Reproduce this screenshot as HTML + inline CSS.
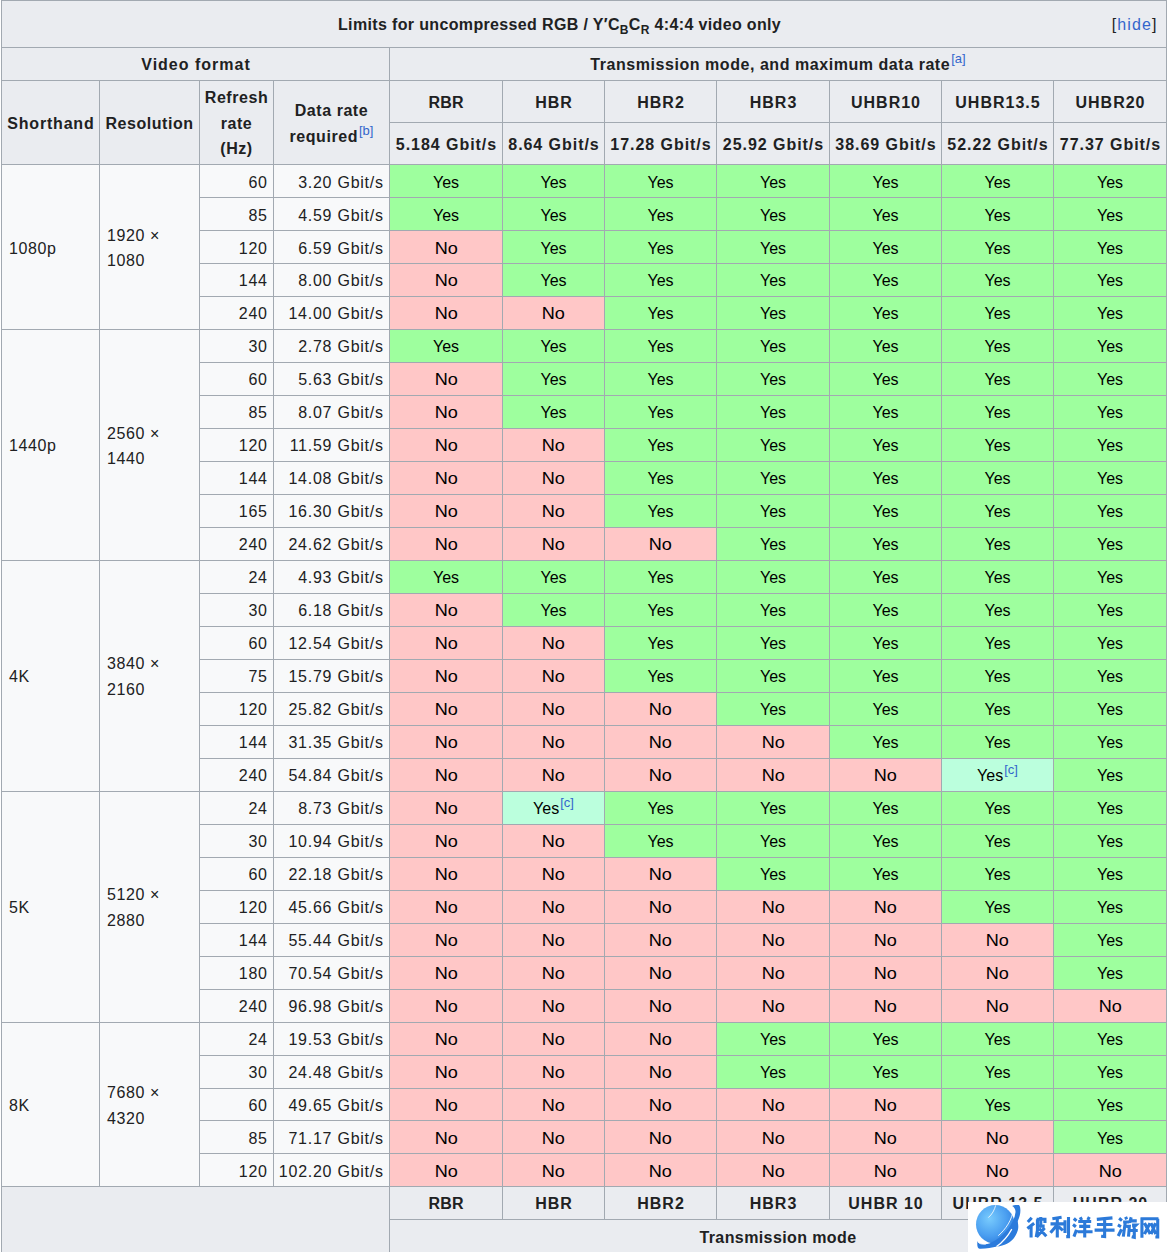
<!DOCTYPE html>
<html><head><meta charset="utf-8"><style>
html,body{margin:0;padding:0;background:#fff;}
#w{position:relative;width:1168px;height:1252px;overflow:hidden;background:#fff;font-family:"Liberation Sans",sans-serif;font-size:16px;color:#202122;}
.c{position:absolute;box-sizing:border-box;border:1px solid #a2a9b1;display:flex;align-items:center;line-height:25.6px;}
.c>span{position:relative;top:2px;letter-spacing:0.6px;}
.th{font-weight:bold;justify-content:center;text-align:center;}
.th>span{top:1px;letter-spacing:0.55px;}
.th.md>span{letter-spacing:1px;margin-right:-1px;}
.th.md.rbr>span{letter-spacing:0.2px;margin-right:-0.2px;}
.tl{justify-content:flex-start;padding-left:7px;}
.tr{justify-content:flex-end;padding-right:6px;}
.tr>span{letter-spacing:0.75px;margin-right:-0.75px;}
.tc{justify-content:center;color:#000;}
.tc.ys>span{letter-spacing:0;}
.tc.no>span{letter-spacing:0;display:inline-block;transform:scaleX(1.13);}
sup{font-size:13px;line-height:1;vertical-align:baseline;position:relative;top:-7px;color:#3366cc;font-weight:normal;letter-spacing:0;margin-left:1px;}
sub{font-size:12px;line-height:1;vertical-align:baseline;position:relative;top:4px;}
.capc{justify-content:flex-start;}
.capc>span{position:static;}
.cap{position:absolute;left:336px;top:11px;letter-spacing:0.35px;}
.hide{position:absolute;right:8.5px;top:11px;font-weight:normal;letter-spacing:1.1px;}
.hide a{color:#3366cc;}
.ab{position:absolute;line-height:20px;letter-spacing:0.6px;white-space:nowrap;}
.tm>span{top:-17px;letter-spacing:0.4px;}
.rt>span{letter-spacing:0.95px;margin-right:-0.95px;}
.vf>span{letter-spacing:1px;margin-right:-1px;}
.sh>span{letter-spacing:0.8px;margin-right:-0.8px;}
</style></head>
<body><div id="w">
<div class="c th capc" style="left:1px;top:0px;width:1166px;height:48px;background:#eaecf0;"><span><span class="cap">Limits for uncompressed RGB / Y′C<sub>B</sub>C<sub>R</sub> 4:4:4 video only</span><span class="hide">[<a>hide</a>]</span></span></div>
<div class="c th vf" style="left:1px;top:47px;width:389px;height:34px;background:#eaecf0;"><span>Video format</span></div>
<div class="c th" style="left:389px;top:47px;width:778px;height:34px;background:#eaecf0;"><span>Transmission mode, and maximum data rate<sup>[a]</sup></span></div>
<div class="c th sh" style="left:1px;top:80px;width:99px;height:85px;background:#eaecf0;"><span>Shorthand</span></div>
<div class="c th" style="left:99px;top:80px;width:101px;height:85px;background:#eaecf0;"><span>Resolution</span></div>
<div class="c th" style="left:199px;top:80px;width:75px;height:85px;background:#eaecf0;"><span>Refresh<br>rate<br>(Hz)</span></div>
<div class="c th" style="left:273px;top:80px;width:117px;height:85px;background:#eaecf0;"><span>Data rate<br>required<sup>[b]</sup></span></div>
<div class="c th md rbr" style="left:389px;top:80px;width:114px;height:43px;background:#eaecf0;"><span>RBR</span></div>
<div class="c th rt" style="left:389px;top:122px;width:114px;height:43px;background:#eaecf0;"><span>5.184 Gbit/s</span></div>
<div class="c th md" style="left:502px;top:80px;width:103px;height:43px;background:#eaecf0;"><span>HBR</span></div>
<div class="c th rt" style="left:502px;top:122px;width:103px;height:43px;background:#eaecf0;"><span>8.64 Gbit/s</span></div>
<div class="c th md" style="left:604px;top:80px;width:113px;height:43px;background:#eaecf0;"><span>HBR2</span></div>
<div class="c th rt" style="left:604px;top:122px;width:113px;height:43px;background:#eaecf0;"><span>17.28 Gbit/s</span></div>
<div class="c th md" style="left:716px;top:80px;width:114px;height:43px;background:#eaecf0;"><span>HBR3</span></div>
<div class="c th rt" style="left:716px;top:122px;width:114px;height:43px;background:#eaecf0;"><span>25.92 Gbit/s</span></div>
<div class="c th md" style="left:829px;top:80px;width:113px;height:43px;background:#eaecf0;"><span>UHBR10</span></div>
<div class="c th rt" style="left:829px;top:122px;width:113px;height:43px;background:#eaecf0;"><span>38.69 Gbit/s</span></div>
<div class="c th md" style="left:941px;top:80px;width:113px;height:43px;background:#eaecf0;"><span>UHBR13.5</span></div>
<div class="c th rt" style="left:941px;top:122px;width:113px;height:43px;background:#eaecf0;"><span>52.22 Gbit/s</span></div>
<div class="c th md" style="left:1053px;top:80px;width:114px;height:43px;background:#eaecf0;"><span>UHBR20</span></div>
<div class="c th rt" style="left:1053px;top:122px;width:114px;height:43px;background:#eaecf0;"><span>77.37 Gbit/s</span></div>
<div class="c" style="left:1px;top:164px;width:99px;height:166px;background:#f8f9fa;"></div>
<div class="ab" style="left:9px;top:239px">1080p</div>
<div class="c" style="left:99px;top:164px;width:101px;height:166px;background:#f8f9fa;"></div>
<div class="ab" style="left:107px;top:226px">1920 ×</div>
<div class="ab" style="left:107px;top:251px">1080</div>
<div class="c tr" style="left:199px;top:164px;width:75px;height:34px;background:#f8f9fa;"><span style="top:2px">60</span></div>
<div class="c tr" style="left:273px;top:164px;width:117px;height:34px;background:#f8f9fa;"><span style="top:2px">3.20 Gbit/s</span></div>
<div class="c tc ys" style="left:389px;top:164px;width:114px;height:34px;background:#9eff9e;"><span style="top:2px">Yes</span></div>
<div class="c tc ys" style="left:502px;top:164px;width:103px;height:34px;background:#9eff9e;"><span style="top:2px">Yes</span></div>
<div class="c tc ys" style="left:604px;top:164px;width:113px;height:34px;background:#9eff9e;"><span style="top:2px">Yes</span></div>
<div class="c tc ys" style="left:716px;top:164px;width:114px;height:34px;background:#9eff9e;"><span style="top:2px">Yes</span></div>
<div class="c tc ys" style="left:829px;top:164px;width:113px;height:34px;background:#9eff9e;"><span style="top:2px">Yes</span></div>
<div class="c tc ys" style="left:941px;top:164px;width:113px;height:34px;background:#9eff9e;"><span style="top:2px">Yes</span></div>
<div class="c tc ys" style="left:1053px;top:164px;width:114px;height:34px;background:#9eff9e;"><span style="top:2px">Yes</span></div>
<div class="c tr" style="left:199px;top:197px;width:75px;height:34px;background:#f8f9fa;"><span style="top:2px">85</span></div>
<div class="c tr" style="left:273px;top:197px;width:117px;height:34px;background:#f8f9fa;"><span style="top:2px">4.59 Gbit/s</span></div>
<div class="c tc ys" style="left:389px;top:197px;width:114px;height:34px;background:#9eff9e;"><span style="top:2px">Yes</span></div>
<div class="c tc ys" style="left:502px;top:197px;width:103px;height:34px;background:#9eff9e;"><span style="top:2px">Yes</span></div>
<div class="c tc ys" style="left:604px;top:197px;width:113px;height:34px;background:#9eff9e;"><span style="top:2px">Yes</span></div>
<div class="c tc ys" style="left:716px;top:197px;width:114px;height:34px;background:#9eff9e;"><span style="top:2px">Yes</span></div>
<div class="c tc ys" style="left:829px;top:197px;width:113px;height:34px;background:#9eff9e;"><span style="top:2px">Yes</span></div>
<div class="c tc ys" style="left:941px;top:197px;width:113px;height:34px;background:#9eff9e;"><span style="top:2px">Yes</span></div>
<div class="c tc ys" style="left:1053px;top:197px;width:114px;height:34px;background:#9eff9e;"><span style="top:2px">Yes</span></div>
<div class="c tr" style="left:199px;top:230px;width:75px;height:34px;background:#f8f9fa;"><span style="top:2px">120</span></div>
<div class="c tr" style="left:273px;top:230px;width:117px;height:34px;background:#f8f9fa;"><span style="top:2px">6.59 Gbit/s</span></div>
<div class="c tc no" style="left:389px;top:230px;width:114px;height:34px;background:#ffc7c7;"><span style="top:2px">No</span></div>
<div class="c tc ys" style="left:502px;top:230px;width:103px;height:34px;background:#9eff9e;"><span style="top:2px">Yes</span></div>
<div class="c tc ys" style="left:604px;top:230px;width:113px;height:34px;background:#9eff9e;"><span style="top:2px">Yes</span></div>
<div class="c tc ys" style="left:716px;top:230px;width:114px;height:34px;background:#9eff9e;"><span style="top:2px">Yes</span></div>
<div class="c tc ys" style="left:829px;top:230px;width:113px;height:34px;background:#9eff9e;"><span style="top:2px">Yes</span></div>
<div class="c tc ys" style="left:941px;top:230px;width:113px;height:34px;background:#9eff9e;"><span style="top:2px">Yes</span></div>
<div class="c tc ys" style="left:1053px;top:230px;width:114px;height:34px;background:#9eff9e;"><span style="top:2px">Yes</span></div>
<div class="c tr" style="left:199px;top:263px;width:75px;height:34px;background:#f8f9fa;"><span style="top:1px">144</span></div>
<div class="c tr" style="left:273px;top:263px;width:117px;height:34px;background:#f8f9fa;"><span style="top:1px">8.00 Gbit/s</span></div>
<div class="c tc no" style="left:389px;top:263px;width:114px;height:34px;background:#ffc7c7;"><span style="top:1px">No</span></div>
<div class="c tc ys" style="left:502px;top:263px;width:103px;height:34px;background:#9eff9e;"><span style="top:1px">Yes</span></div>
<div class="c tc ys" style="left:604px;top:263px;width:113px;height:34px;background:#9eff9e;"><span style="top:1px">Yes</span></div>
<div class="c tc ys" style="left:716px;top:263px;width:114px;height:34px;background:#9eff9e;"><span style="top:1px">Yes</span></div>
<div class="c tc ys" style="left:829px;top:263px;width:113px;height:34px;background:#9eff9e;"><span style="top:1px">Yes</span></div>
<div class="c tc ys" style="left:941px;top:263px;width:113px;height:34px;background:#9eff9e;"><span style="top:1px">Yes</span></div>
<div class="c tc ys" style="left:1053px;top:263px;width:114px;height:34px;background:#9eff9e;"><span style="top:1px">Yes</span></div>
<div class="c tr" style="left:199px;top:296px;width:75px;height:34px;background:#f8f9fa;"><span style="top:1px">240</span></div>
<div class="c tr" style="left:273px;top:296px;width:117px;height:34px;background:#f8f9fa;"><span style="top:1px">14.00 Gbit/s</span></div>
<div class="c tc no" style="left:389px;top:296px;width:114px;height:34px;background:#ffc7c7;"><span style="top:1px">No</span></div>
<div class="c tc no" style="left:502px;top:296px;width:103px;height:34px;background:#ffc7c7;"><span style="top:1px">No</span></div>
<div class="c tc ys" style="left:604px;top:296px;width:113px;height:34px;background:#9eff9e;"><span style="top:1px">Yes</span></div>
<div class="c tc ys" style="left:716px;top:296px;width:114px;height:34px;background:#9eff9e;"><span style="top:1px">Yes</span></div>
<div class="c tc ys" style="left:829px;top:296px;width:113px;height:34px;background:#9eff9e;"><span style="top:1px">Yes</span></div>
<div class="c tc ys" style="left:941px;top:296px;width:113px;height:34px;background:#9eff9e;"><span style="top:1px">Yes</span></div>
<div class="c tc ys" style="left:1053px;top:296px;width:114px;height:34px;background:#9eff9e;"><span style="top:1px">Yes</span></div>
<div class="c" style="left:1px;top:329px;width:99px;height:232px;background:#f8f9fa;"></div>
<div class="ab" style="left:9px;top:436px">1440p</div>
<div class="c" style="left:99px;top:329px;width:101px;height:232px;background:#f8f9fa;"></div>
<div class="ab" style="left:107px;top:424px">2560 ×</div>
<div class="ab" style="left:107px;top:449px">1440</div>
<div class="c tr" style="left:199px;top:329px;width:75px;height:34px;background:#f8f9fa;"><span style="top:1px">30</span></div>
<div class="c tr" style="left:273px;top:329px;width:117px;height:34px;background:#f8f9fa;"><span style="top:1px">2.78 Gbit/s</span></div>
<div class="c tc ys" style="left:389px;top:329px;width:114px;height:34px;background:#9eff9e;"><span style="top:1px">Yes</span></div>
<div class="c tc ys" style="left:502px;top:329px;width:103px;height:34px;background:#9eff9e;"><span style="top:1px">Yes</span></div>
<div class="c tc ys" style="left:604px;top:329px;width:113px;height:34px;background:#9eff9e;"><span style="top:1px">Yes</span></div>
<div class="c tc ys" style="left:716px;top:329px;width:114px;height:34px;background:#9eff9e;"><span style="top:1px">Yes</span></div>
<div class="c tc ys" style="left:829px;top:329px;width:113px;height:34px;background:#9eff9e;"><span style="top:1px">Yes</span></div>
<div class="c tc ys" style="left:941px;top:329px;width:113px;height:34px;background:#9eff9e;"><span style="top:1px">Yes</span></div>
<div class="c tc ys" style="left:1053px;top:329px;width:114px;height:34px;background:#9eff9e;"><span style="top:1px">Yes</span></div>
<div class="c tr" style="left:199px;top:362px;width:75px;height:34px;background:#f8f9fa;"><span style="top:1px">60</span></div>
<div class="c tr" style="left:273px;top:362px;width:117px;height:34px;background:#f8f9fa;"><span style="top:1px">5.63 Gbit/s</span></div>
<div class="c tc no" style="left:389px;top:362px;width:114px;height:34px;background:#ffc7c7;"><span style="top:1px">No</span></div>
<div class="c tc ys" style="left:502px;top:362px;width:103px;height:34px;background:#9eff9e;"><span style="top:1px">Yes</span></div>
<div class="c tc ys" style="left:604px;top:362px;width:113px;height:34px;background:#9eff9e;"><span style="top:1px">Yes</span></div>
<div class="c tc ys" style="left:716px;top:362px;width:114px;height:34px;background:#9eff9e;"><span style="top:1px">Yes</span></div>
<div class="c tc ys" style="left:829px;top:362px;width:113px;height:34px;background:#9eff9e;"><span style="top:1px">Yes</span></div>
<div class="c tc ys" style="left:941px;top:362px;width:113px;height:34px;background:#9eff9e;"><span style="top:1px">Yes</span></div>
<div class="c tc ys" style="left:1053px;top:362px;width:114px;height:34px;background:#9eff9e;"><span style="top:1px">Yes</span></div>
<div class="c tr" style="left:199px;top:395px;width:75px;height:34px;background:#f8f9fa;"><span style="top:1px">85</span></div>
<div class="c tr" style="left:273px;top:395px;width:117px;height:34px;background:#f8f9fa;"><span style="top:1px">8.07 Gbit/s</span></div>
<div class="c tc no" style="left:389px;top:395px;width:114px;height:34px;background:#ffc7c7;"><span style="top:1px">No</span></div>
<div class="c tc ys" style="left:502px;top:395px;width:103px;height:34px;background:#9eff9e;"><span style="top:1px">Yes</span></div>
<div class="c tc ys" style="left:604px;top:395px;width:113px;height:34px;background:#9eff9e;"><span style="top:1px">Yes</span></div>
<div class="c tc ys" style="left:716px;top:395px;width:114px;height:34px;background:#9eff9e;"><span style="top:1px">Yes</span></div>
<div class="c tc ys" style="left:829px;top:395px;width:113px;height:34px;background:#9eff9e;"><span style="top:1px">Yes</span></div>
<div class="c tc ys" style="left:941px;top:395px;width:113px;height:34px;background:#9eff9e;"><span style="top:1px">Yes</span></div>
<div class="c tc ys" style="left:1053px;top:395px;width:114px;height:34px;background:#9eff9e;"><span style="top:1px">Yes</span></div>
<div class="c tr" style="left:199px;top:428px;width:75px;height:34px;background:#f8f9fa;"><span style="top:1px">120</span></div>
<div class="c tr" style="left:273px;top:428px;width:117px;height:34px;background:#f8f9fa;"><span style="top:1px">11.59 Gbit/s</span></div>
<div class="c tc no" style="left:389px;top:428px;width:114px;height:34px;background:#ffc7c7;"><span style="top:1px">No</span></div>
<div class="c tc no" style="left:502px;top:428px;width:103px;height:34px;background:#ffc7c7;"><span style="top:1px">No</span></div>
<div class="c tc ys" style="left:604px;top:428px;width:113px;height:34px;background:#9eff9e;"><span style="top:1px">Yes</span></div>
<div class="c tc ys" style="left:716px;top:428px;width:114px;height:34px;background:#9eff9e;"><span style="top:1px">Yes</span></div>
<div class="c tc ys" style="left:829px;top:428px;width:113px;height:34px;background:#9eff9e;"><span style="top:1px">Yes</span></div>
<div class="c tc ys" style="left:941px;top:428px;width:113px;height:34px;background:#9eff9e;"><span style="top:1px">Yes</span></div>
<div class="c tc ys" style="left:1053px;top:428px;width:114px;height:34px;background:#9eff9e;"><span style="top:1px">Yes</span></div>
<div class="c tr" style="left:199px;top:461px;width:75px;height:34px;background:#f8f9fa;"><span style="top:1px">144</span></div>
<div class="c tr" style="left:273px;top:461px;width:117px;height:34px;background:#f8f9fa;"><span style="top:1px">14.08 Gbit/s</span></div>
<div class="c tc no" style="left:389px;top:461px;width:114px;height:34px;background:#ffc7c7;"><span style="top:1px">No</span></div>
<div class="c tc no" style="left:502px;top:461px;width:103px;height:34px;background:#ffc7c7;"><span style="top:1px">No</span></div>
<div class="c tc ys" style="left:604px;top:461px;width:113px;height:34px;background:#9eff9e;"><span style="top:1px">Yes</span></div>
<div class="c tc ys" style="left:716px;top:461px;width:114px;height:34px;background:#9eff9e;"><span style="top:1px">Yes</span></div>
<div class="c tc ys" style="left:829px;top:461px;width:113px;height:34px;background:#9eff9e;"><span style="top:1px">Yes</span></div>
<div class="c tc ys" style="left:941px;top:461px;width:113px;height:34px;background:#9eff9e;"><span style="top:1px">Yes</span></div>
<div class="c tc ys" style="left:1053px;top:461px;width:114px;height:34px;background:#9eff9e;"><span style="top:1px">Yes</span></div>
<div class="c tr" style="left:199px;top:494px;width:75px;height:34px;background:#f8f9fa;"><span style="top:1px">165</span></div>
<div class="c tr" style="left:273px;top:494px;width:117px;height:34px;background:#f8f9fa;"><span style="top:1px">16.30 Gbit/s</span></div>
<div class="c tc no" style="left:389px;top:494px;width:114px;height:34px;background:#ffc7c7;"><span style="top:1px">No</span></div>
<div class="c tc no" style="left:502px;top:494px;width:103px;height:34px;background:#ffc7c7;"><span style="top:1px">No</span></div>
<div class="c tc ys" style="left:604px;top:494px;width:113px;height:34px;background:#9eff9e;"><span style="top:1px">Yes</span></div>
<div class="c tc ys" style="left:716px;top:494px;width:114px;height:34px;background:#9eff9e;"><span style="top:1px">Yes</span></div>
<div class="c tc ys" style="left:829px;top:494px;width:113px;height:34px;background:#9eff9e;"><span style="top:1px">Yes</span></div>
<div class="c tc ys" style="left:941px;top:494px;width:113px;height:34px;background:#9eff9e;"><span style="top:1px">Yes</span></div>
<div class="c tc ys" style="left:1053px;top:494px;width:114px;height:34px;background:#9eff9e;"><span style="top:1px">Yes</span></div>
<div class="c tr" style="left:199px;top:527px;width:75px;height:34px;background:#f8f9fa;"><span style="top:1px">240</span></div>
<div class="c tr" style="left:273px;top:527px;width:117px;height:34px;background:#f8f9fa;"><span style="top:1px">24.62 Gbit/s</span></div>
<div class="c tc no" style="left:389px;top:527px;width:114px;height:34px;background:#ffc7c7;"><span style="top:1px">No</span></div>
<div class="c tc no" style="left:502px;top:527px;width:103px;height:34px;background:#ffc7c7;"><span style="top:1px">No</span></div>
<div class="c tc no" style="left:604px;top:527px;width:113px;height:34px;background:#ffc7c7;"><span style="top:1px">No</span></div>
<div class="c tc ys" style="left:716px;top:527px;width:114px;height:34px;background:#9eff9e;"><span style="top:1px">Yes</span></div>
<div class="c tc ys" style="left:829px;top:527px;width:113px;height:34px;background:#9eff9e;"><span style="top:1px">Yes</span></div>
<div class="c tc ys" style="left:941px;top:527px;width:113px;height:34px;background:#9eff9e;"><span style="top:1px">Yes</span></div>
<div class="c tc ys" style="left:1053px;top:527px;width:114px;height:34px;background:#9eff9e;"><span style="top:1px">Yes</span></div>
<div class="c" style="left:1px;top:560px;width:99px;height:232px;background:#f8f9fa;"></div>
<div class="ab" style="left:9px;top:667px">4K</div>
<div class="c" style="left:99px;top:560px;width:101px;height:232px;background:#f8f9fa;"></div>
<div class="ab" style="left:107px;top:654px">3840 ×</div>
<div class="ab" style="left:107px;top:680px">2160</div>
<div class="c tr" style="left:199px;top:560px;width:75px;height:34px;background:#f8f9fa;"><span style="top:1px">24</span></div>
<div class="c tr" style="left:273px;top:560px;width:117px;height:34px;background:#f8f9fa;"><span style="top:1px">4.93 Gbit/s</span></div>
<div class="c tc ys" style="left:389px;top:560px;width:114px;height:34px;background:#9eff9e;"><span style="top:1px">Yes</span></div>
<div class="c tc ys" style="left:502px;top:560px;width:103px;height:34px;background:#9eff9e;"><span style="top:1px">Yes</span></div>
<div class="c tc ys" style="left:604px;top:560px;width:113px;height:34px;background:#9eff9e;"><span style="top:1px">Yes</span></div>
<div class="c tc ys" style="left:716px;top:560px;width:114px;height:34px;background:#9eff9e;"><span style="top:1px">Yes</span></div>
<div class="c tc ys" style="left:829px;top:560px;width:113px;height:34px;background:#9eff9e;"><span style="top:1px">Yes</span></div>
<div class="c tc ys" style="left:941px;top:560px;width:113px;height:34px;background:#9eff9e;"><span style="top:1px">Yes</span></div>
<div class="c tc ys" style="left:1053px;top:560px;width:114px;height:34px;background:#9eff9e;"><span style="top:1px">Yes</span></div>
<div class="c tr" style="left:199px;top:593px;width:75px;height:34px;background:#f8f9fa;"><span style="top:1px">30</span></div>
<div class="c tr" style="left:273px;top:593px;width:117px;height:34px;background:#f8f9fa;"><span style="top:1px">6.18 Gbit/s</span></div>
<div class="c tc no" style="left:389px;top:593px;width:114px;height:34px;background:#ffc7c7;"><span style="top:1px">No</span></div>
<div class="c tc ys" style="left:502px;top:593px;width:103px;height:34px;background:#9eff9e;"><span style="top:1px">Yes</span></div>
<div class="c tc ys" style="left:604px;top:593px;width:113px;height:34px;background:#9eff9e;"><span style="top:1px">Yes</span></div>
<div class="c tc ys" style="left:716px;top:593px;width:114px;height:34px;background:#9eff9e;"><span style="top:1px">Yes</span></div>
<div class="c tc ys" style="left:829px;top:593px;width:113px;height:34px;background:#9eff9e;"><span style="top:1px">Yes</span></div>
<div class="c tc ys" style="left:941px;top:593px;width:113px;height:34px;background:#9eff9e;"><span style="top:1px">Yes</span></div>
<div class="c tc ys" style="left:1053px;top:593px;width:114px;height:34px;background:#9eff9e;"><span style="top:1px">Yes</span></div>
<div class="c tr" style="left:199px;top:626px;width:75px;height:34px;background:#f8f9fa;"><span style="top:1px">60</span></div>
<div class="c tr" style="left:273px;top:626px;width:117px;height:34px;background:#f8f9fa;"><span style="top:1px">12.54 Gbit/s</span></div>
<div class="c tc no" style="left:389px;top:626px;width:114px;height:34px;background:#ffc7c7;"><span style="top:1px">No</span></div>
<div class="c tc no" style="left:502px;top:626px;width:103px;height:34px;background:#ffc7c7;"><span style="top:1px">No</span></div>
<div class="c tc ys" style="left:604px;top:626px;width:113px;height:34px;background:#9eff9e;"><span style="top:1px">Yes</span></div>
<div class="c tc ys" style="left:716px;top:626px;width:114px;height:34px;background:#9eff9e;"><span style="top:1px">Yes</span></div>
<div class="c tc ys" style="left:829px;top:626px;width:113px;height:34px;background:#9eff9e;"><span style="top:1px">Yes</span></div>
<div class="c tc ys" style="left:941px;top:626px;width:113px;height:34px;background:#9eff9e;"><span style="top:1px">Yes</span></div>
<div class="c tc ys" style="left:1053px;top:626px;width:114px;height:34px;background:#9eff9e;"><span style="top:1px">Yes</span></div>
<div class="c tr" style="left:199px;top:659px;width:75px;height:34px;background:#f8f9fa;"><span style="top:1px">75</span></div>
<div class="c tr" style="left:273px;top:659px;width:117px;height:34px;background:#f8f9fa;"><span style="top:1px">15.79 Gbit/s</span></div>
<div class="c tc no" style="left:389px;top:659px;width:114px;height:34px;background:#ffc7c7;"><span style="top:1px">No</span></div>
<div class="c tc no" style="left:502px;top:659px;width:103px;height:34px;background:#ffc7c7;"><span style="top:1px">No</span></div>
<div class="c tc ys" style="left:604px;top:659px;width:113px;height:34px;background:#9eff9e;"><span style="top:1px">Yes</span></div>
<div class="c tc ys" style="left:716px;top:659px;width:114px;height:34px;background:#9eff9e;"><span style="top:1px">Yes</span></div>
<div class="c tc ys" style="left:829px;top:659px;width:113px;height:34px;background:#9eff9e;"><span style="top:1px">Yes</span></div>
<div class="c tc ys" style="left:941px;top:659px;width:113px;height:34px;background:#9eff9e;"><span style="top:1px">Yes</span></div>
<div class="c tc ys" style="left:1053px;top:659px;width:114px;height:34px;background:#9eff9e;"><span style="top:1px">Yes</span></div>
<div class="c tr" style="left:199px;top:692px;width:75px;height:34px;background:#f8f9fa;"><span style="top:1px">120</span></div>
<div class="c tr" style="left:273px;top:692px;width:117px;height:34px;background:#f8f9fa;"><span style="top:1px">25.82 Gbit/s</span></div>
<div class="c tc no" style="left:389px;top:692px;width:114px;height:34px;background:#ffc7c7;"><span style="top:1px">No</span></div>
<div class="c tc no" style="left:502px;top:692px;width:103px;height:34px;background:#ffc7c7;"><span style="top:1px">No</span></div>
<div class="c tc no" style="left:604px;top:692px;width:113px;height:34px;background:#ffc7c7;"><span style="top:1px">No</span></div>
<div class="c tc ys" style="left:716px;top:692px;width:114px;height:34px;background:#9eff9e;"><span style="top:1px">Yes</span></div>
<div class="c tc ys" style="left:829px;top:692px;width:113px;height:34px;background:#9eff9e;"><span style="top:1px">Yes</span></div>
<div class="c tc ys" style="left:941px;top:692px;width:113px;height:34px;background:#9eff9e;"><span style="top:1px">Yes</span></div>
<div class="c tc ys" style="left:1053px;top:692px;width:114px;height:34px;background:#9eff9e;"><span style="top:1px">Yes</span></div>
<div class="c tr" style="left:199px;top:725px;width:75px;height:34px;background:#f8f9fa;"><span style="top:1px">144</span></div>
<div class="c tr" style="left:273px;top:725px;width:117px;height:34px;background:#f8f9fa;"><span style="top:1px">31.35 Gbit/s</span></div>
<div class="c tc no" style="left:389px;top:725px;width:114px;height:34px;background:#ffc7c7;"><span style="top:1px">No</span></div>
<div class="c tc no" style="left:502px;top:725px;width:103px;height:34px;background:#ffc7c7;"><span style="top:1px">No</span></div>
<div class="c tc no" style="left:604px;top:725px;width:113px;height:34px;background:#ffc7c7;"><span style="top:1px">No</span></div>
<div class="c tc no" style="left:716px;top:725px;width:114px;height:34px;background:#ffc7c7;"><span style="top:1px">No</span></div>
<div class="c tc ys" style="left:829px;top:725px;width:113px;height:34px;background:#9eff9e;"><span style="top:1px">Yes</span></div>
<div class="c tc ys" style="left:941px;top:725px;width:113px;height:34px;background:#9eff9e;"><span style="top:1px">Yes</span></div>
<div class="c tc ys" style="left:1053px;top:725px;width:114px;height:34px;background:#9eff9e;"><span style="top:1px">Yes</span></div>
<div class="c tr" style="left:199px;top:758px;width:75px;height:34px;background:#f8f9fa;"><span style="top:1px">240</span></div>
<div class="c tr" style="left:273px;top:758px;width:117px;height:34px;background:#f8f9fa;"><span style="top:1px">54.84 Gbit/s</span></div>
<div class="c tc no" style="left:389px;top:758px;width:114px;height:34px;background:#ffc7c7;"><span style="top:1px">No</span></div>
<div class="c tc no" style="left:502px;top:758px;width:103px;height:34px;background:#ffc7c7;"><span style="top:1px">No</span></div>
<div class="c tc no" style="left:604px;top:758px;width:113px;height:34px;background:#ffc7c7;"><span style="top:1px">No</span></div>
<div class="c tc no" style="left:716px;top:758px;width:114px;height:34px;background:#ffc7c7;"><span style="top:1px">No</span></div>
<div class="c tc no" style="left:829px;top:758px;width:113px;height:34px;background:#ffc7c7;"><span style="top:1px">No</span></div>
<div class="c tc ys" style="left:941px;top:758px;width:113px;height:34px;background:#bbffdd;"><span style="top:1px">Yes<sup>[c]</sup></span></div>
<div class="c tc ys" style="left:1053px;top:758px;width:114px;height:34px;background:#9eff9e;"><span style="top:1px">Yes</span></div>
<div class="c" style="left:1px;top:791px;width:99px;height:232px;background:#f8f9fa;"></div>
<div class="ab" style="left:9px;top:898px">5K</div>
<div class="c" style="left:99px;top:791px;width:101px;height:232px;background:#f8f9fa;"></div>
<div class="ab" style="left:107px;top:885px">5120 ×</div>
<div class="ab" style="left:107px;top:911px">2880</div>
<div class="c tr" style="left:199px;top:791px;width:75px;height:34px;background:#f8f9fa;"><span style="top:1px">24</span></div>
<div class="c tr" style="left:273px;top:791px;width:117px;height:34px;background:#f8f9fa;"><span style="top:1px">8.73 Gbit/s</span></div>
<div class="c tc no" style="left:389px;top:791px;width:114px;height:34px;background:#ffc7c7;"><span style="top:1px">No</span></div>
<div class="c tc ys" style="left:502px;top:791px;width:103px;height:34px;background:#bbffdd;"><span style="top:1px">Yes<sup>[c]</sup></span></div>
<div class="c tc ys" style="left:604px;top:791px;width:113px;height:34px;background:#9eff9e;"><span style="top:1px">Yes</span></div>
<div class="c tc ys" style="left:716px;top:791px;width:114px;height:34px;background:#9eff9e;"><span style="top:1px">Yes</span></div>
<div class="c tc ys" style="left:829px;top:791px;width:113px;height:34px;background:#9eff9e;"><span style="top:1px">Yes</span></div>
<div class="c tc ys" style="left:941px;top:791px;width:113px;height:34px;background:#9eff9e;"><span style="top:1px">Yes</span></div>
<div class="c tc ys" style="left:1053px;top:791px;width:114px;height:34px;background:#9eff9e;"><span style="top:1px">Yes</span></div>
<div class="c tr" style="left:199px;top:824px;width:75px;height:34px;background:#f8f9fa;"><span style="top:1px">30</span></div>
<div class="c tr" style="left:273px;top:824px;width:117px;height:34px;background:#f8f9fa;"><span style="top:1px">10.94 Gbit/s</span></div>
<div class="c tc no" style="left:389px;top:824px;width:114px;height:34px;background:#ffc7c7;"><span style="top:1px">No</span></div>
<div class="c tc no" style="left:502px;top:824px;width:103px;height:34px;background:#ffc7c7;"><span style="top:1px">No</span></div>
<div class="c tc ys" style="left:604px;top:824px;width:113px;height:34px;background:#9eff9e;"><span style="top:1px">Yes</span></div>
<div class="c tc ys" style="left:716px;top:824px;width:114px;height:34px;background:#9eff9e;"><span style="top:1px">Yes</span></div>
<div class="c tc ys" style="left:829px;top:824px;width:113px;height:34px;background:#9eff9e;"><span style="top:1px">Yes</span></div>
<div class="c tc ys" style="left:941px;top:824px;width:113px;height:34px;background:#9eff9e;"><span style="top:1px">Yes</span></div>
<div class="c tc ys" style="left:1053px;top:824px;width:114px;height:34px;background:#9eff9e;"><span style="top:1px">Yes</span></div>
<div class="c tr" style="left:199px;top:857px;width:75px;height:34px;background:#f8f9fa;"><span style="top:1px">60</span></div>
<div class="c tr" style="left:273px;top:857px;width:117px;height:34px;background:#f8f9fa;"><span style="top:1px">22.18 Gbit/s</span></div>
<div class="c tc no" style="left:389px;top:857px;width:114px;height:34px;background:#ffc7c7;"><span style="top:1px">No</span></div>
<div class="c tc no" style="left:502px;top:857px;width:103px;height:34px;background:#ffc7c7;"><span style="top:1px">No</span></div>
<div class="c tc no" style="left:604px;top:857px;width:113px;height:34px;background:#ffc7c7;"><span style="top:1px">No</span></div>
<div class="c tc ys" style="left:716px;top:857px;width:114px;height:34px;background:#9eff9e;"><span style="top:1px">Yes</span></div>
<div class="c tc ys" style="left:829px;top:857px;width:113px;height:34px;background:#9eff9e;"><span style="top:1px">Yes</span></div>
<div class="c tc ys" style="left:941px;top:857px;width:113px;height:34px;background:#9eff9e;"><span style="top:1px">Yes</span></div>
<div class="c tc ys" style="left:1053px;top:857px;width:114px;height:34px;background:#9eff9e;"><span style="top:1px">Yes</span></div>
<div class="c tr" style="left:199px;top:890px;width:75px;height:34px;background:#f8f9fa;"><span style="top:1px">120</span></div>
<div class="c tr" style="left:273px;top:890px;width:117px;height:34px;background:#f8f9fa;"><span style="top:1px">45.66 Gbit/s</span></div>
<div class="c tc no" style="left:389px;top:890px;width:114px;height:34px;background:#ffc7c7;"><span style="top:1px">No</span></div>
<div class="c tc no" style="left:502px;top:890px;width:103px;height:34px;background:#ffc7c7;"><span style="top:1px">No</span></div>
<div class="c tc no" style="left:604px;top:890px;width:113px;height:34px;background:#ffc7c7;"><span style="top:1px">No</span></div>
<div class="c tc no" style="left:716px;top:890px;width:114px;height:34px;background:#ffc7c7;"><span style="top:1px">No</span></div>
<div class="c tc no" style="left:829px;top:890px;width:113px;height:34px;background:#ffc7c7;"><span style="top:1px">No</span></div>
<div class="c tc ys" style="left:941px;top:890px;width:113px;height:34px;background:#9eff9e;"><span style="top:1px">Yes</span></div>
<div class="c tc ys" style="left:1053px;top:890px;width:114px;height:34px;background:#9eff9e;"><span style="top:1px">Yes</span></div>
<div class="c tr" style="left:199px;top:923px;width:75px;height:34px;background:#f8f9fa;"><span style="top:1px">144</span></div>
<div class="c tr" style="left:273px;top:923px;width:117px;height:34px;background:#f8f9fa;"><span style="top:1px">55.44 Gbit/s</span></div>
<div class="c tc no" style="left:389px;top:923px;width:114px;height:34px;background:#ffc7c7;"><span style="top:1px">No</span></div>
<div class="c tc no" style="left:502px;top:923px;width:103px;height:34px;background:#ffc7c7;"><span style="top:1px">No</span></div>
<div class="c tc no" style="left:604px;top:923px;width:113px;height:34px;background:#ffc7c7;"><span style="top:1px">No</span></div>
<div class="c tc no" style="left:716px;top:923px;width:114px;height:34px;background:#ffc7c7;"><span style="top:1px">No</span></div>
<div class="c tc no" style="left:829px;top:923px;width:113px;height:34px;background:#ffc7c7;"><span style="top:1px">No</span></div>
<div class="c tc no" style="left:941px;top:923px;width:113px;height:34px;background:#ffc7c7;"><span style="top:1px">No</span></div>
<div class="c tc ys" style="left:1053px;top:923px;width:114px;height:34px;background:#9eff9e;"><span style="top:1px">Yes</span></div>
<div class="c tr" style="left:199px;top:956px;width:75px;height:34px;background:#f8f9fa;"><span style="top:1px">180</span></div>
<div class="c tr" style="left:273px;top:956px;width:117px;height:34px;background:#f8f9fa;"><span style="top:1px">70.54 Gbit/s</span></div>
<div class="c tc no" style="left:389px;top:956px;width:114px;height:34px;background:#ffc7c7;"><span style="top:1px">No</span></div>
<div class="c tc no" style="left:502px;top:956px;width:103px;height:34px;background:#ffc7c7;"><span style="top:1px">No</span></div>
<div class="c tc no" style="left:604px;top:956px;width:113px;height:34px;background:#ffc7c7;"><span style="top:1px">No</span></div>
<div class="c tc no" style="left:716px;top:956px;width:114px;height:34px;background:#ffc7c7;"><span style="top:1px">No</span></div>
<div class="c tc no" style="left:829px;top:956px;width:113px;height:34px;background:#ffc7c7;"><span style="top:1px">No</span></div>
<div class="c tc no" style="left:941px;top:956px;width:113px;height:34px;background:#ffc7c7;"><span style="top:1px">No</span></div>
<div class="c tc ys" style="left:1053px;top:956px;width:114px;height:34px;background:#9eff9e;"><span style="top:1px">Yes</span></div>
<div class="c tr" style="left:199px;top:989px;width:75px;height:34px;background:#f8f9fa;"><span style="top:1px">240</span></div>
<div class="c tr" style="left:273px;top:989px;width:117px;height:34px;background:#f8f9fa;"><span style="top:1px">96.98 Gbit/s</span></div>
<div class="c tc no" style="left:389px;top:989px;width:114px;height:34px;background:#ffc7c7;"><span style="top:1px">No</span></div>
<div class="c tc no" style="left:502px;top:989px;width:103px;height:34px;background:#ffc7c7;"><span style="top:1px">No</span></div>
<div class="c tc no" style="left:604px;top:989px;width:113px;height:34px;background:#ffc7c7;"><span style="top:1px">No</span></div>
<div class="c tc no" style="left:716px;top:989px;width:114px;height:34px;background:#ffc7c7;"><span style="top:1px">No</span></div>
<div class="c tc no" style="left:829px;top:989px;width:113px;height:34px;background:#ffc7c7;"><span style="top:1px">No</span></div>
<div class="c tc no" style="left:941px;top:989px;width:113px;height:34px;background:#ffc7c7;"><span style="top:1px">No</span></div>
<div class="c tc no" style="left:1053px;top:989px;width:114px;height:34px;background:#ffc7c7;"><span style="top:1px">No</span></div>
<div class="c" style="left:1px;top:1022px;width:99px;height:165px;background:#f8f9fa;"></div>
<div class="ab" style="left:9px;top:1096px">8K</div>
<div class="c" style="left:99px;top:1022px;width:101px;height:165px;background:#f8f9fa;"></div>
<div class="ab" style="left:107px;top:1083px">7680 ×</div>
<div class="ab" style="left:107px;top:1109px">4320</div>
<div class="c tr" style="left:199px;top:1022px;width:75px;height:34px;background:#f8f9fa;"><span style="top:1px">24</span></div>
<div class="c tr" style="left:273px;top:1022px;width:117px;height:34px;background:#f8f9fa;"><span style="top:1px">19.53 Gbit/s</span></div>
<div class="c tc no" style="left:389px;top:1022px;width:114px;height:34px;background:#ffc7c7;"><span style="top:1px">No</span></div>
<div class="c tc no" style="left:502px;top:1022px;width:103px;height:34px;background:#ffc7c7;"><span style="top:1px">No</span></div>
<div class="c tc no" style="left:604px;top:1022px;width:113px;height:34px;background:#ffc7c7;"><span style="top:1px">No</span></div>
<div class="c tc ys" style="left:716px;top:1022px;width:114px;height:34px;background:#9eff9e;"><span style="top:1px">Yes</span></div>
<div class="c tc ys" style="left:829px;top:1022px;width:113px;height:34px;background:#9eff9e;"><span style="top:1px">Yes</span></div>
<div class="c tc ys" style="left:941px;top:1022px;width:113px;height:34px;background:#9eff9e;"><span style="top:1px">Yes</span></div>
<div class="c tc ys" style="left:1053px;top:1022px;width:114px;height:34px;background:#9eff9e;"><span style="top:1px">Yes</span></div>
<div class="c tr" style="left:199px;top:1055px;width:75px;height:34px;background:#f8f9fa;"><span style="top:1px">30</span></div>
<div class="c tr" style="left:273px;top:1055px;width:117px;height:34px;background:#f8f9fa;"><span style="top:1px">24.48 Gbit/s</span></div>
<div class="c tc no" style="left:389px;top:1055px;width:114px;height:34px;background:#ffc7c7;"><span style="top:1px">No</span></div>
<div class="c tc no" style="left:502px;top:1055px;width:103px;height:34px;background:#ffc7c7;"><span style="top:1px">No</span></div>
<div class="c tc no" style="left:604px;top:1055px;width:113px;height:34px;background:#ffc7c7;"><span style="top:1px">No</span></div>
<div class="c tc ys" style="left:716px;top:1055px;width:114px;height:34px;background:#9eff9e;"><span style="top:1px">Yes</span></div>
<div class="c tc ys" style="left:829px;top:1055px;width:113px;height:34px;background:#9eff9e;"><span style="top:1px">Yes</span></div>
<div class="c tc ys" style="left:941px;top:1055px;width:113px;height:34px;background:#9eff9e;"><span style="top:1px">Yes</span></div>
<div class="c tc ys" style="left:1053px;top:1055px;width:114px;height:34px;background:#9eff9e;"><span style="top:1px">Yes</span></div>
<div class="c tr" style="left:199px;top:1088px;width:75px;height:33px;background:#f8f9fa;"><span style="top:1px">60</span></div>
<div class="c tr" style="left:273px;top:1088px;width:117px;height:33px;background:#f8f9fa;"><span style="top:1px">49.65 Gbit/s</span></div>
<div class="c tc no" style="left:389px;top:1088px;width:114px;height:33px;background:#ffc7c7;"><span style="top:1px">No</span></div>
<div class="c tc no" style="left:502px;top:1088px;width:103px;height:33px;background:#ffc7c7;"><span style="top:1px">No</span></div>
<div class="c tc no" style="left:604px;top:1088px;width:113px;height:33px;background:#ffc7c7;"><span style="top:1px">No</span></div>
<div class="c tc no" style="left:716px;top:1088px;width:114px;height:33px;background:#ffc7c7;"><span style="top:1px">No</span></div>
<div class="c tc no" style="left:829px;top:1088px;width:113px;height:33px;background:#ffc7c7;"><span style="top:1px">No</span></div>
<div class="c tc ys" style="left:941px;top:1088px;width:113px;height:33px;background:#9eff9e;"><span style="top:1px">Yes</span></div>
<div class="c tc ys" style="left:1053px;top:1088px;width:114px;height:33px;background:#9eff9e;"><span style="top:1px">Yes</span></div>
<div class="c tr" style="left:199px;top:1120px;width:75px;height:34px;background:#f8f9fa;"><span style="top:2px">85</span></div>
<div class="c tr" style="left:273px;top:1120px;width:117px;height:34px;background:#f8f9fa;"><span style="top:2px">71.17 Gbit/s</span></div>
<div class="c tc no" style="left:389px;top:1120px;width:114px;height:34px;background:#ffc7c7;"><span style="top:2px">No</span></div>
<div class="c tc no" style="left:502px;top:1120px;width:103px;height:34px;background:#ffc7c7;"><span style="top:2px">No</span></div>
<div class="c tc no" style="left:604px;top:1120px;width:113px;height:34px;background:#ffc7c7;"><span style="top:2px">No</span></div>
<div class="c tc no" style="left:716px;top:1120px;width:114px;height:34px;background:#ffc7c7;"><span style="top:2px">No</span></div>
<div class="c tc no" style="left:829px;top:1120px;width:113px;height:34px;background:#ffc7c7;"><span style="top:2px">No</span></div>
<div class="c tc no" style="left:941px;top:1120px;width:113px;height:34px;background:#ffc7c7;"><span style="top:2px">No</span></div>
<div class="c tc ys" style="left:1053px;top:1120px;width:114px;height:34px;background:#9eff9e;"><span style="top:2px">Yes</span></div>
<div class="c tr" style="left:199px;top:1153px;width:75px;height:34px;background:#f8f9fa;"><span style="top:2px">120</span></div>
<div class="c tr" style="left:273px;top:1153px;width:117px;height:34px;background:#f8f9fa;"><span style="top:2px">102.20 Gbit/s</span></div>
<div class="c tc no" style="left:389px;top:1153px;width:114px;height:34px;background:#ffc7c7;"><span style="top:2px">No</span></div>
<div class="c tc no" style="left:502px;top:1153px;width:103px;height:34px;background:#ffc7c7;"><span style="top:2px">No</span></div>
<div class="c tc no" style="left:604px;top:1153px;width:113px;height:34px;background:#ffc7c7;"><span style="top:2px">No</span></div>
<div class="c tc no" style="left:716px;top:1153px;width:114px;height:34px;background:#ffc7c7;"><span style="top:2px">No</span></div>
<div class="c tc no" style="left:829px;top:1153px;width:113px;height:34px;background:#ffc7c7;"><span style="top:2px">No</span></div>
<div class="c tc no" style="left:941px;top:1153px;width:113px;height:34px;background:#ffc7c7;"><span style="top:2px">No</span></div>
<div class="c tc no" style="left:1053px;top:1153px;width:114px;height:34px;background:#ffc7c7;"><span style="top:2px">No</span></div>
<div class="c th" style="left:1px;top:1186px;width:389px;height:105px;background:#eaecf0;"><span></span></div>
<div class="c th md rbr" style="left:389px;top:1186px;width:114px;height:34px;background:#eaecf0;"><span>RBR</span></div>
<div class="c th md" style="left:502px;top:1186px;width:103px;height:34px;background:#eaecf0;"><span>HBR</span></div>
<div class="c th md" style="left:604px;top:1186px;width:113px;height:34px;background:#eaecf0;"><span>HBR2</span></div>
<div class="c th md" style="left:716px;top:1186px;width:114px;height:34px;background:#eaecf0;"><span>HBR3</span></div>
<div class="c th md" style="left:829px;top:1186px;width:113px;height:34px;background:#eaecf0;"><span>UHBR 10</span></div>
<div class="c th md" style="left:941px;top:1186px;width:113px;height:34px;background:#eaecf0;"><span>UHBR 13.5</span></div>
<div class="c th md" style="left:1053px;top:1186px;width:114px;height:34px;background:#eaecf0;"><span>UHBR 20</span></div>
<div class="c th tm" style="left:389px;top:1219px;width:778px;height:72px;background:#eaecf0;"><span>Transmission mode</span></div><div id="wm" style="position:absolute;left:968px;top:1202px;width:200px;height:50px;background:#fff;"></div>
<svg style="position:absolute;left:966px;top:1198px;" width="202" height="54" viewBox="0 0 202 54">
<defs><radialGradient id="gl" cx="0.35" cy="0.35" r="0.75"><stop offset="0" stop-color="#78cbfd"/><stop offset="0.6" stop-color="#4a9ef0"/><stop offset="1" stop-color="#2a78db"/></radialGradient></defs>
<circle cx="29.3" cy="26.4" r="19.3" fill="url(#gl)"/>
<path d="M11.6,43 C11,46 11,50.4 13.5,50.8 C20,51 26,49.5 31,48.6 C38,48 45,44.3 48,40 C51.5,35 52.3,31 52.3,28.7 C52.2,25 51.5,24 52,22.5 C53.5,19 54.4,16 54.4,12.2 C54.4,8 53,7 52.3,7.1 C50,6.8 47.5,7 46.2,8.1 C48.5,9.5 49.8,12 49.5,14.3 C49,20 46,26 42,31 C37,37 31,42 24,45.3 C21,46.5 17,46.5 14.5,45.8 C13,45.3 12,44.5 11.6,43 Z" fill="#2b7bdc"/>
<path d="M29.7,7.3 C28.5,12 26,16.5 22.3,19.6" fill="none" stroke="#fff" stroke-width="1" opacity="0.8"/>
<path d="M47.5,11 C46,22 40,31 32.2,37.7" fill="none" stroke="#fff" stroke-width="1" opacity="0.85"/>
<path d="M45.8,31.1 C42,38 37,44 30.5,48.6" fill="none" stroke="#fff" stroke-width="1.2"/>
<path d="M11.8,43.5 C13,46 16,46.5 20,46" fill="none" stroke="#fff" stroke-width="0.8"/>
<g fill="none" stroke="#2c7ad9" stroke-width="50" stroke-linecap="butt" stroke-linejoin="miter">
<g transform="translate(58,12) scale(0.06165)">
<path d="M125,125 L62,195 M165,215 L55,300 M115,265 L115,445 M205,150 L340,150 L340,210 M272,112 L272,262 M218,150 L218,330 L198,440 M220,262 L335,262 M245,300 L362,425 M335,290 L205,438"/>
<path d="M460,142 L610,118 M430,225 L650,225 M540,118 L540,448 M530,250 L430,370 M560,272 L630,330 M665,165 L665,372 M722,112 L722,432 L685,432"/>
<path d="M808,138 L852,178 M795,236 L842,272 M810,432 L852,320 M912,118 L936,162 M1060,115 L1034,162 M880,186 L1090,186 M895,266 L1075,266 M868,352 L1112,352 M985,168 L985,448"/>
</g>
<g transform="translate(126,12) scale(0.06165)">
<path d="M78,152 L332,128 M80,236 L332,236 M42,326 L366,326 M205,138 L205,432 L148,426"/>
<path d="M440,135 L486,172 M420,242 L470,272 M425,422 L480,312 M545,113 L562,152 M505,196 L606,196 M540,196 L508,432 M555,266 L606,266 L592,432 M636,118 L610,206 M625,176 L726,176 M650,242 L716,242 L666,292 M618,332 L742,332 M686,292 L686,442 L644,432"/>
<path d="M810,122 L810,452 M790,142 L1078,142 M1066,142 L1066,438 L1028,438 M852,212 L944,392 M940,212 L852,392 M956,212 L1036,392 M1030,212 L958,392"/>
</g>
</g>
</svg>
</div></body></html>
